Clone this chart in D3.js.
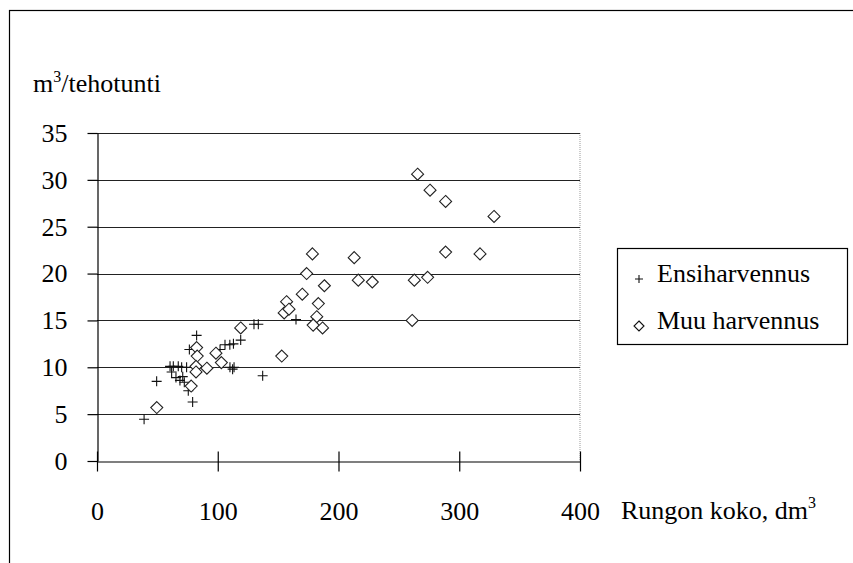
<!DOCTYPE html>
<html>
<head>
<meta charset="utf-8">
<script src="https://cdn.jsdelivr.net/npm/d3@7"></script>
<style>
  body { margin: 0; background: #fff; font-family: "Liberation Serif", serif; }
  #chart, #chart text, #chart tspan { font-family: "Liberation Serif", serif !important; }
</style>
</head>
<body>
<svg id="chart" width="853" height="563" font-family="Liberation Serif, serif"></svg>
<script>
// Ensiharvennus (crosses): [stem size dm3, m3/tehotunti]
const ensiX = [39, 49.4, 60.5, 63.2, 67.3, 70.1, 74.2, 61.8, 65.4, 68.7, 72.3, 71, 75.6, 79.2, 76.5, 82.5,
  101.9, 106, 110, 113, 119, 110.1, 112.3, 113.5, 130, 133.6, 137.2, 164.8];
const ensiY = [4.45, 8.5, 10.1, 10.1, 10.1, 10.0, 10.0, 9.5, 8.9, 8.6, 8.4, 9.0, 7.5, 6.3, 11.9, 13.4,
  11.9, 12.4, 12.4, 12.5, 12.9, 10.0, 9.8, 10.0, 14.6, 14.6, 9.1, 15.1];

// Muu harvennus (diamonds)
const muuX = [49.5, 78, 82.5, 83, 82, 82, 91, 98.5, 103, 119, 153, 155, 157, 159, 170, 173.6, 178.4, 188.3,
  183.3, 182, 179, 186.8, 213, 216.4, 228, 262.8, 273.8, 261, 265.5, 275.8, 288.7, 328.8, 288.7, 317.2];
const muuY = [5.7, 8.0, 12.1, 11.2, 10.1, 9.5, 9.9, 11.5, 10.5, 14.2, 11.2, 15.8, 17.0, 16.2, 17.8, 20.0, 22.1, 18.7,
  16.8, 15.4, 14.5, 14.2, 21.7, 19.3, 19.1, 19.3, 19.6, 15.0, 30.6, 28.9, 27.7, 26.1, 22.3, 22.1];

const xTicks = [0, 100, 200, 300, 400];
const yTicks = [0, 5, 10, 15, 20, 25, 30, 35];
const seriesNames = ['Ensiharvennus', 'Muu harvennus'];

const svg = d3.select('#chart');
const fontFamily = 'Liberation Serif';
const fontSize = 26;

const x = d3.scaleLinear().domain([0, 400]).range([97, 580]);
const y = d3.scaleLinear().domain([0, 35]).range([461, 133]);

// outer frame (runs off the bottom/right edge)
svg.append('rect')
  .attr('x', 9.5).attr('y', 10.5)
  .attr('width', 900).attr('height', 700)
  .attr('fill', 'none').attr('stroke', '#000').attr('stroke-width', 1.2);

// plot right border, dotted
svg.append('line')
  .attr('x1', x(400)).attr('x2', x(400))
  .attr('y1', y(35)).attr('y2', y(0))
  .attr('stroke', '#999').attr('stroke-dasharray', '1,1');

// horizontal gridlines
svg.append('g').selectAll('line')
  .data(yTicks.filter(d => d > 0))
  .join('line')
  .attr('x1', x(0)).attr('x2', x(400))
  .attr('y1', d => Math.round(y(d)) + 0.5).attr('y2', d => Math.round(y(d)) + 0.5)
  .attr('stroke', '#222').attr('stroke-width', 1.2);

// axes
const xAxis = svg.append('g')
  .attr('transform', `translate(0,${Math.round(y(0)) + 0.5})`)
  .call(d3.axisBottom(x).tickValues(xTicks).tickSize(10).tickPadding(30).tickSizeOuter(0));
xAxis.selectAll('.tick line').attr('y1', -10);

const yAxis = svg.append('g')
  .attr('transform', `translate(${Math.round(x(0)) + 0.5},0)`)
  .call(d3.axisLeft(y).tickValues(yTicks).tickSize(10).tickPadding(20).tickSizeOuter(0));

[xAxis, yAxis].forEach((g) => {
  g.attr('font-family', fontFamily).attr('font-size', fontSize);
  g.select('.domain').attr('stroke', '#000').attr('stroke-width', 1.2);
  g.selectAll('.tick line').attr('stroke', '#000').attr('stroke-width', 1.2);
  g.selectAll('.tick text').attr('fill', '#000').attr('font-family', fontFamily);
});

// axis titles
const yTitle = svg.append('text')
  .attr('x', 33).attr('y', 92)
  .attr('font-family', fontFamily)
  .attr('font-size', fontSize);
yTitle.append('tspan').text('m');
yTitle.append('tspan').text('3').attr('dy', -10).attr('font-size', 16);
yTitle.append('tspan').text('/tehotunti').attr('dy', 10);

const xTitle = svg.append('text')
  .attr('x', 621).attr('y', 519)
  .attr('font-family', fontFamily)
  .attr('font-size', fontSize);
xTitle.append('tspan').text('Rungon koko, dm');
xTitle.append('tspan').text('3').attr('dy', -11).attr('font-size', 16);

// marker shapes
const crossPath = r => `M${-r},0H${r}M0,${-r}V${r}`;
const diamondPath = r => `M0,${-r}L${r},0L0,${r}L${-r},0Z`;

const ensi = ensiX.map((v, i) => [v, ensiY[i]]);
const muu = muuX.map((v, i) => [v, muuY[i]]);

svg.append('g').selectAll('path')
  .data(ensi)
  .join('path')
  .attr('transform', d => `translate(${x(d[0])},${y(d[1])})`)
  .attr('d', crossPath(5))
  .attr('fill', 'none').attr('stroke', '#111').attr('stroke-width', 1.1);

svg.append('g').selectAll('path')
  .data(muu)
  .join('path')
  .attr('transform', d => `translate(${x(d[0])},${y(d[1])})`)
  .attr('d', diamondPath(6))
  .attr('fill', '#fff').attr('stroke', '#222').attr('stroke-width', 1.1);

// legend
const legend = svg.append('g');
legend.append('rect')
  .attr('x', 617.5).attr('y', 248.5)
  .attr('width', 230).attr('height', 96)
  .attr('fill', '#fff').attr('stroke', '#000').attr('stroke-width', 1.2);

const legendRows = legend.selectAll('g.row')
  .data(seriesNames)
  .join('g')
  .attr('class', 'row')
  .attr('transform', (d, i) => `translate(639,${i === 0 ? 279 : 326})`);

legendRows.append('path')
  .attr('d', (d, i) => (i === 0 ? crossPath(4) : diamondPath(5)))
  .attr('fill', (d, i) => (i === 0 ? 'none' : '#fff'))
  .attr('stroke', '#111').attr('stroke-width', 1.1);

legendRows.append('text')
  .attr('x', 18).attr('y', 3)
  .attr('font-family', fontFamily)
  .attr('font-size', fontSize)
  .text(d => d);
</script>
</body>
</html>
